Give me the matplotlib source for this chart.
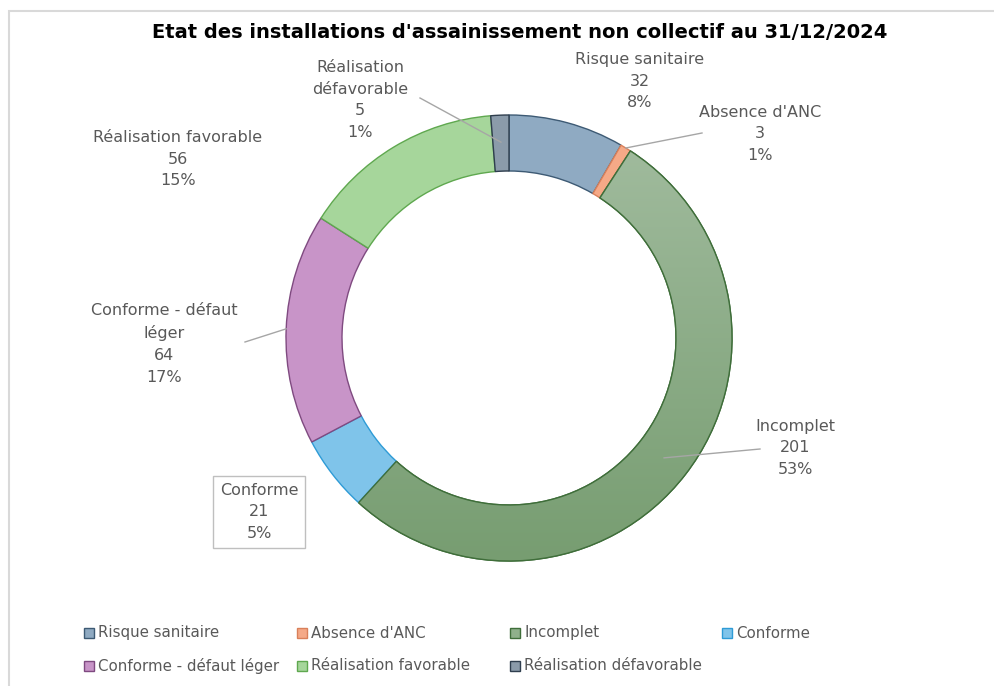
import numpy as np
import matplotlib
matplotlib.use('Agg')
import matplotlib.pyplot as plt
from matplotlib.patches import Rectangle
from matplotlib.colors import LinearSegmentedColormap

# data
categories = ['Risque sanitaire', "Absence d'ANC", 'Incomplet', 'Conforme',
              'Conforme - défaut léger', 'Réalisation favorable', 'Réalisation défavorable']
counts = [32, 3, 201, 21, 64, 56, 5]
label_names = ['Risque sanitaire', "Absence d'ANC", 'Incomplet', 'Conforme',
               'Conforme - défaut\nléger', 'Réalisation favorable', 'Réalisation\ndéfavorable']
title = "Etat des installations d'assainissement non collectif au 31/12/2024"

face_colors = ['#8FAAC2', '#F5A987', '#8FB08B', '#7FC4EA', '#C894C8', '#A6D69B', '#8B9BAA']
edge_colors = ['#3D5A74', '#D9805A', '#3F6E3A', '#2E9BD6', '#7F4A80', '#5FA84F', '#2F3E4E']
incomplet_gradient = ['#A3BDA0', '#779D71']  # top -> bottom

W, H = 994, 686
TEXT = '#595959'
plt.rcParams['font.family'] = ['DejaVu Sans']


def px(x, y):
  # image pixel -> data coords (y up)
  return x, H - y


# label layout: text centre, leader line (outer end, anchor radius)
label_pos = [(640, 81), (760, 134), (795, 448), (259, 512), (164, 344), (178, 159), (360, 100)]
leader_end = [None, (702, 133), (760, 449), None, (245, 342), None, (420, 98)]
leader_r = [None, 223, 196, None, 223, None, 196]

# legend grid (Excel lays entries row by row in equal columns)
legend_cols = [84, 297, 510, 722]
legend_rows = [633, 666]

fig = plt.figure(figsize=(W / 100, H / 100), dpi=100)
ax = fig.add_axes([0, 0, 1, 1])

center = px(509, 338)
R = 223
wedges, _ = ax.pie(counts, colors=face_colors, startangle=90, counterclock=False,
                   radius=R, center=center,
                   wedgeprops=dict(width=56, linewidth=1.0))
for w, ec in zip(wedges, edge_colors):
  w.set_edgecolor(ec)

# gradient fill on the big slice, like the Excel style
big = wedges[categories.index('Incomplet')]
grad = np.linspace(0, 1, 256).reshape(-1, 1)
cmap = LinearSegmentedColormap.from_list('inc', incomplet_gradient)
im = ax.imshow(grad, cmap=cmap, aspect='auto', origin='upper', zorder=big.get_zorder() + 0.1,
               extent=(center[0] - R, center[0] + R, center[1] - R, center[1] + R))
im.set_clip_path(big)
ax.add_patch(plt.matplotlib.patches.Wedge(center, R, big.theta1, big.theta2, width=56,
                                          fill=False, edgecolor=edge_colors[2],
                                          linewidth=1.0, zorder=big.get_zorder() + 0.2))

ax.set_xlim(0, W)
ax.set_ylim(0, H)
ax.set_aspect('equal')
ax.axis('off')

# chart frame
ax.add_patch(Rectangle(px(9, 700), W, 700 - 11, fill=False, edgecolor='#D9D9D9', linewidth=1.5))

total = sum(counts)
for i, w in enumerate(wedges):
  pct = f'{round(counts[i] / total * 100)}%'
  txt = f'{label_names[i]}\n{counts[i]}\n{pct}'
  bbox = None
  if categories[i] == 'Conforme':
    bbox = dict(boxstyle='square,pad=0.45', facecolor='white', edgecolor='#BFBFBF', linewidth=1)
  ax.text(*px(*label_pos[i]), txt, ha='center', va='center', fontsize=11.5,
          color=TEXT, linespacing=1.55, bbox=bbox)
  if leader_end[i] is not None:
    mid = np.deg2rad((w.theta1 + w.theta2) / 2)
    ax_x = center[0] + leader_r[i] * np.cos(mid)
    ax_y = center[1] + leader_r[i] * np.sin(mid)
    ex, ey = px(*leader_end[i])
    ax.plot([ex, ax_x], [ey, ax_y], color='#A6A6A6', linewidth=1, zorder=5)

fig.text(520 / W, 1 - 32 / H, title, ha='center', va='center', fontsize=14,
         fontweight='bold', color='black')

# legend
for k, name in enumerate(categories):
  x0 = legend_cols[k % 4]
  y0 = legend_rows[k // 4]
  mx, my = px(x0, y0 + 5)
  ax.add_patch(Rectangle((mx, my), 10, 10, facecolor=face_colors[k],
                         edgecolor=edge_colors[k], linewidth=1))
  ax.text(*px(x0 + 14, y0), name, ha='left', va='center', fontsize=10.8, color=TEXT)

fig.savefig('out.png', dpi=100)
